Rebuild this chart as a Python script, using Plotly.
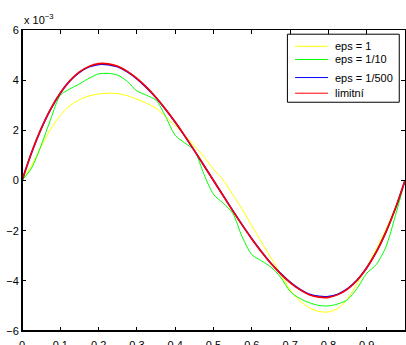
import plotly.graph_objects as go

# sample points along the interval [0, 1]
x = [round(i * 0.025, 3) for i in range(41)]

# solution values, in units of 1e-3
eps_1 = [0, 0.6, 1.35, 2.05, 2.6, 2.98, 3.22, 3.37, 3.45, 3.48, 3.46, 3.38, 3.24, 3.08,
         2.88, 2.55, 2.18, 1.80, 1.38, 0.95, 0.45, 0.02, -0.55, -1.15, -1.80, -2.45,
         -3.08, -3.72, -4.36, -4.80, -5.07, -5.22, -5.24, -5.10, -4.72, -4.10, -3.45,
         -2.72, -1.95, -1.05, 0]
eps_10 = [0, 0.5, 1.4, 2.45, 3.4, 3.65, 3.85, 4.08, 4.25, 4.27, 4.2, 3.95, 3.57, 3.40,
          3.2, 2.55, 1.8, 1.5, 1.2, 0.25, -0.55, -0.9, -1.3, -2.25, -2.95, -3.2, -3.45,
          -3.85, -4.42, -4.7, -4.87, -4.98, -5.0, -4.92, -4.75, -4.3, -3.7, -3.35,
          -2.65, -1.4, 0]
eps_500 = [0, 1.11, 2.06, 2.85, 3.48, 3.97, 4.31, 4.53, 4.63, 4.62, 4.53, 4.33, 4.05,
           3.70, 3.30, 2.83, 2.32, 1.77, 1.19, 0.60, 0, -0.60, -1.19, -1.77, -2.32,
           -2.83, -3.30, -3.70, -4.05, -4.33, -4.53, -4.62, -4.63, -4.53, -4.31,
           -3.97, -3.48, -2.85, -2.06, -1.11, 0]
limit = [0, 1.12, 2.07, 2.86, 3.49, 3.98, 4.33, 4.55, 4.66, 4.65, 4.55, 4.35, 4.07,
         3.72, 3.31, 2.84, 2.33, 1.78, 1.20, 0.60, 0, -0.60, -1.20, -1.78, -2.33,
         -2.84, -3.31, -3.72, -4.07, -4.35, -4.55, -4.65, -4.66, -4.55, -4.33,
         -3.98, -3.49, -2.86, -2.07, -1.12, 0]

names = ["eps = 1", "eps = 1/10", "eps = 1/500", "limitní"]
colors = ["#ffff00", "#00ff00", "#0000ff", "#ff0000"]
widths = [1, 1, 1.6, 1.6]
values = [eps_1, eps_10, eps_500, limit]

x_ticks = [0, 0.1, 0.2, 0.3, 0.4, 0.5, 0.6, 0.7, 0.8, 0.9, 1]
x_tick_text = ["0", "0.1", "0.2", "0.3", "0.4", "0.5", "0.6", "0.7", "0.8", "0.9", "1"]
y_ticks = [-6, -4, -2, 0, 2, 4, 6]
y_tick_text = ["−6", "−4", "−2", "0", "2", "4", "6"]
scale = 1e-3

fig = go.Figure()
for name, vals, color, width in zip(names, values, colors, widths):
    fig.add_trace(go.Scatter(
        x=x, y=[v * scale for v in vals], name=name, mode="lines", showlegend=False,
        line=dict(color=color, width=width, shape="spline", smoothing=0.8),
    ))

font = dict(family="Liberation Sans, Arial, sans-serif", size=11, color="#000000")
axis_common = dict(
    showgrid=False, zeroline=False, showline=True, linecolor="#000000", linewidth=1,
    mirror="ticks", ticks="inside", ticklen=4, tickcolor="#000000", tickwidth=1,
    tickfont=font, automargin=False,
)

# boxed legend in the upper right corner (paper coordinates)
box_x0, box_x1, box_y0, box_y1 = 0.693, 0.985, 0.760, 0.986
entry_y = [0.946, 0.902, 0.842, 0.790]
sample_x0, sample_x1, text_x = 0.713, 0.799, 0.812

shapes = [
    dict(type="rect", xref="paper", yref="paper", x0=box_x0, x1=box_x1, y0=box_y0, y1=box_y1,
         line=dict(color="#000000", width=1), fillcolor="#ffffff", layer="above"),
]
annotations = [dict(
    text="x 10<sup>−3</sup>", xref="paper", yref="paper", x=0, y=1.0,
    xanchor="left", yanchor="bottom", yshift=2, showarrow=False, font=font,
)]
for name, color, ey in zip(names, colors, entry_y):
    shapes.append(dict(type="line", xref="paper", yref="paper", x0=sample_x0, x1=sample_x1,
                       y0=ey, y1=ey, line=dict(color=color, width=1), layer="above"))
    annotations.append(dict(text=name, xref="paper", yref="paper", x=text_x, y=ey,
                            xanchor="left", yanchor="middle", showarrow=False, font=font))

# heavier left and bottom axis lines
shapes += [
    dict(type="line", xref="paper", yref="paper", x0=0, x1=0, y0=0, y1=1,
         line=dict(color="#000000", width=2)),
    dict(type="line", xref="paper", yref="paper", x0=0, x1=1, y0=0, y1=0,
         line=dict(color="#000000", width=2)),
]

fig.update_layout(
    width=406, height=345,
    margin=dict(l=22, r=1, t=30, b=14),
    paper_bgcolor="#ffffff", plot_bgcolor="#ffffff",
    font=font,
    showlegend=False,
    xaxis=dict(range=[0, 1], tickvals=x_ticks, ticktext=x_tick_text,
               ticklabelstandoff=4, **axis_common),
    yaxis=dict(range=[-6 * scale, 6 * scale], tickvals=[t * scale for t in y_ticks],
               ticktext=y_tick_text, **axis_common),
    annotations=annotations,
    shapes=shapes,
)

fig.write_html("out.html")
